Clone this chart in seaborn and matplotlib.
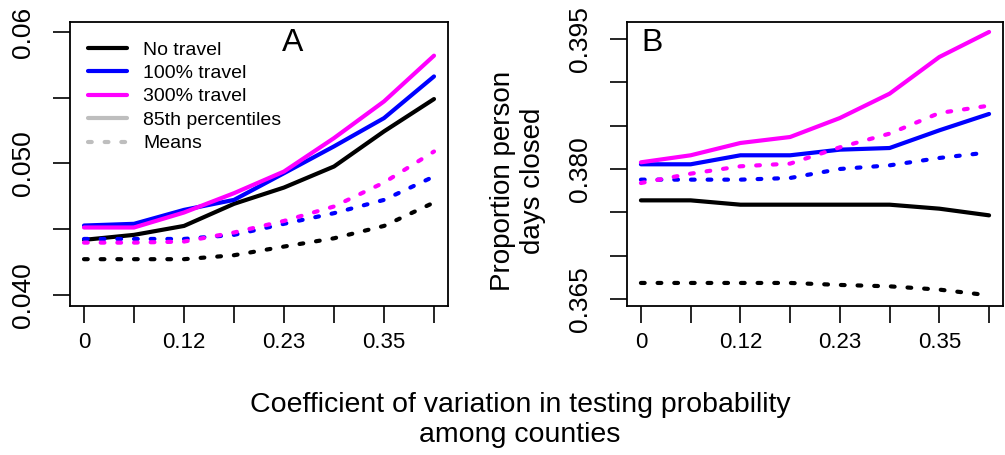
import numpy as np
import pandas as pd
import matplotlib
matplotlib.use("Agg")
import matplotlib.pyplot as plt
from matplotlib.lines import Line2D
import seaborn as sns

# ---- data ----
x_pos = [0, 1, 2, 3, 4, 5, 6, 7]
x_labels = ["0", "", "0.12", "", "0.23", "", "0.35", ""]
travel = ["No travel", "100% travel", "300% travel"]

# Panel A
a_p85_none = [0.04419, 0.04457, 0.04525, 0.04693, 0.04817, 0.04977, 0.05244, 0.05490]
a_p85_100 = [0.04528, 0.04541, 0.04647, 0.04723, 0.04926, 0.05130, 0.05345, 0.05662]
a_p85_300 = [0.04513, 0.04513, 0.04627, 0.04774, 0.04939, 0.05193, 0.05472, 0.05820]
a_mean_none = [0.04272, 0.04272, 0.04272, 0.04302, 0.04368, 0.04431, 0.04525, 0.04703]
a_mean_100 = [0.04426, 0.04426, 0.04426, 0.04457, 0.04541, 0.04622, 0.04723, 0.04901]
a_mean_300 = [0.04398, 0.04398, 0.04406, 0.04475, 0.04563, 0.04673, 0.04855, 0.05091]

# Panel B
b_p85_none = [0.37638, 0.37638, 0.37588, 0.37588, 0.37588, 0.37588, 0.37542, 0.37465]
b_p85_100 = [0.38054, 0.38054, 0.38158, 0.38158, 0.38223, 0.38242, 0.38446, 0.38635]
b_p85_300 = [0.38077, 0.38158, 0.38300, 0.38369, 0.38588, 0.38869, 0.39292, 0.39581]
b_mean_none = [0.36685, 0.36685, 0.36685, 0.36685, 0.36662, 0.36646, 0.36608, 0.36542]
b_mean_100 = [0.37877, 0.37877, 0.37877, 0.37896, 0.38000, 0.38042, 0.38127, 0.38192]
b_mean_300 = [0.37838, 0.37946, 0.38031, 0.38062, 0.38250, 0.38408, 0.38646, 0.38731]

a_yticks = [0.040, 0.045, 0.050, 0.055, 0.060]
a_ylabels = ["0.040", "", "0.050", "", "0.06"]
b_yticks = [0.365, 0.370, 0.375, 0.380, 0.385, 0.390, 0.395]
b_ylabels = ["0.365", "", "", "0.380", "", "", "0.395"]


def long_df(p85, means):
    rows = []
    for t, vals in zip(travel, p85):
        for xi, v in zip(x_pos, vals):
            rows.append((xi, v, t, "85th percentiles"))
    for t, vals in zip(travel, means):
        for xi, v in zip(x_pos, vals):
            rows.append((xi, v, t, "Means"))
    return pd.DataFrame(rows, columns=["x", "value", "travel", "stat"])


df_a = long_df([a_p85_none, a_p85_100, a_p85_300], [a_mean_none, a_mean_100, a_mean_300])
df_b = long_df([b_p85_none, b_p85_100, b_p85_300], [b_mean_none, b_mean_100, b_mean_300])

sns.set_style("ticks")
plt.rcParams["font.family"] = ["Liberation Sans", "DejaVu Sans"]
plt.rcParams["text.color"] = "black"
plt.rcParams["axes.labelcolor"] = "black"
plt.rcParams["xtick.color"] = "black"
plt.rcParams["ytick.color"] = "black"
plt.rcParams["axes.edgecolor"] = "black"

palette = {"No travel": "#000000", "100% travel": "#0000FF", "300% travel": "#FF00FF"}
dash_pat = (0.9, 3.1)
dashes = {"85th percentiles": "", "Means": dash_pat}
LW = 3.0

fig = plt.figure(figsize=(10.05, 4.55), dpi=100)
axA = fig.add_axes([70 / 1005, 149 / 455, 378 / 1005, 284 / 455])
axB = fig.add_axes([627 / 1005, 149 / 455, 376 / 1005, 284 / 455])

for ax, df in ((axA, df_a), (axB, df_b)):
    sns.lineplot(data=df, x="x", y="value", hue="travel", style="stat",
                 palette=palette, dashes=dashes, hue_order=travel,
                 style_order=["85th percentiles", "Means"],
                 linewidth=LW, legend=False, ax=ax,
                 solid_capstyle="round", dash_capstyle="round")

for ax, yt, yl, ylim in ((axA, a_yticks, a_ylabels, (0.03916, 0.06076)),
                         (axB, b_yticks, b_ylabels, (0.36419, 0.39696))):
    ax.set_xlim(-0.28, 7.28)
    ax.set_ylim(*ylim)
    ax.set_xticks(x_pos)
    ax.set_xticklabels(x_labels, fontsize=16)
    ax.set_yticks(yt)
    ax.set_yticklabels(yl, rotation=90, va="center", fontsize=19)
    ax.tick_params(axis="both", direction="out", length=12, width=1.2, color="black",
                   labelcolor="black")
    ax.tick_params(axis="x", pad=7)
    ax.tick_params(axis="y", pad=13)
    ax.set_xlabel("")
    ax.set_ylabel("")
    for s in ax.spines.values():
        s.set_visible(True)
        s.set_color("black")
        s.set_linewidth(1.3)

axA.text(0.59, 0.925, "A", transform=axA.transAxes, ha="center", va="center", fontsize=23)
axB.text(0.066, 0.925, "B", transform=axB.transAxes, ha="center", va="center", fontsize=23)

handles = [
    Line2D([], [], color="#000000", lw=LW),
    Line2D([], [], color="#0000FF", lw=LW),
    Line2D([], [], color="#FF00FF", lw=LW),
    Line2D([], [], color="#BEBEBE", lw=LW),
    Line2D([], [], color="#BEBEBE", lw=LW, dashes=dash_pat, dash_capstyle="round"),
]
labels = ["No travel", "100% travel", "300% travel", "85th percentiles", "Means"]
axA.legend(handles, labels, loc="upper left", bbox_to_anchor=(0.0, 0.995),
           frameon=False, fontsize=14, handlelength=2.05, handletextpad=0.8,
           labelspacing=0.3, borderaxespad=0.5)

fig.text(518 / 1005, 1 - 181 / 455, "Proportion person\ndays closed", rotation=90,
         ha="center", va="center", fontsize=20, linespacing=1.2)
fig.text(520 / 1005, 1 - 420 / 455,
         "Coefficient of variation in testing probability\namong counties",
         ha="center", va="center", fontsize=20.5, linespacing=1.15)

fig.savefig("out.png", dpi=100)
